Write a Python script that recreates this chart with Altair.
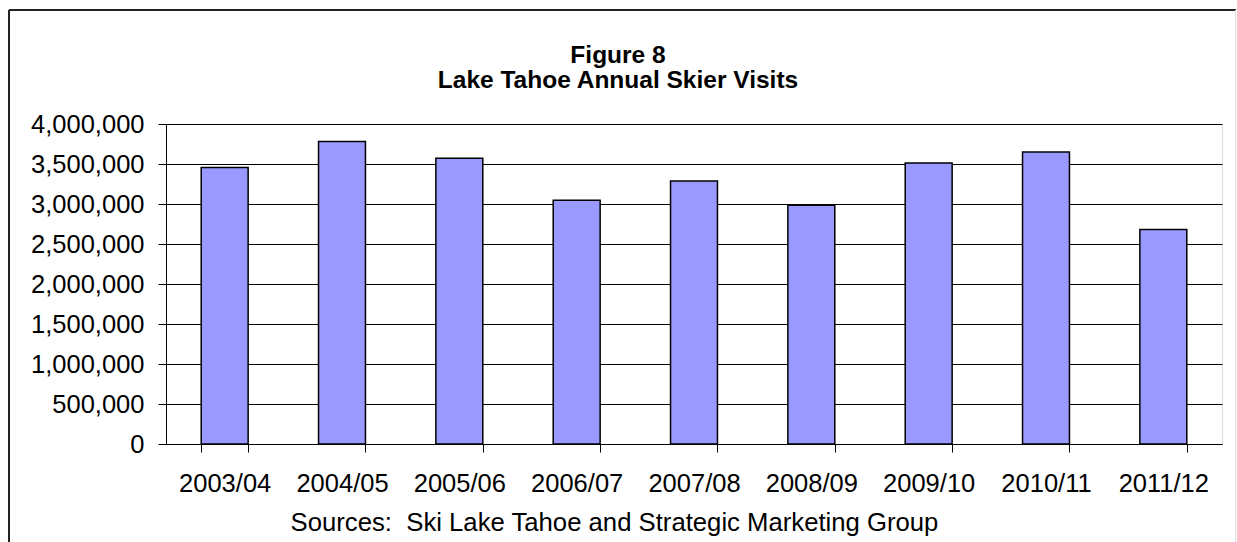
import altair as alt
import pandas as pd

# Ski seasons and annual skier visits
seasons = ["2003/04", "2004/05", "2005/06", "2006/07", "2007/08",
           "2008/09", "2009/10", "2010/11", "2011/12"]
visits = [3455000, 3780000, 3572000, 3047000, 3288000,
          2985000, 3513000, 3650000, 2680000]

y_ticks = [0, 500000, 1000000, 1500000, 2000000, 2500000, 3000000, 3500000, 4000000]

title_lines = ["Figure 8", "Lake Tahoe Annual Skier Visits"]

df = pd.DataFrame({"season": seasons, "visits": visits})
one = pd.DataFrame({"k": [0]})

FONT = "Liberation Sans"

bars = alt.Chart(df).mark_bar(
    color="#9999FF", stroke="#000000", strokeWidth=1.5
).encode(
    x=alt.X(
        "season:N",
        sort=seasons,
        scale=alt.Scale(paddingInner=0.6, paddingOuter=0.3),
        axis=alt.Axis(
            title="Sources:\u00a0 Ski Lake Tahoe and Strategic Marketing Group",
            titleFont=FONT, titleFontSize=25.7, titleFontWeight="normal",
            titleColor="#000000", titleX=448, titleY=86,
            titleBaseline="alphabetic", titleAnchor="start", titleAlign="center",
            labelAngle=0, labelFont=FONT, labelFontSize=25.5, labelColor="#000000",
            labelPadding=19, tickBand="extent", tickSize=8, tickColor="#000000",
            domainColor="#000000", grid=False,
        ),
    ),
    y=alt.Y(
        "visits:Q",
        scale=alt.Scale(domain=[0, 4000000], nice=False),
        axis=alt.Axis(
            title=None, values=y_ticks, format=",d",
            labelFont=FONT, labelFontSize=25.5, labelColor="#000000",
            labelPadding=14, tickSize=8, tickColor="#000000",
            domainColor="#000000", gridColor="#000000", gridWidth=1,
        ),
    ),
)

# Two-line bold heading above the plot
def heading_line(text, y):
    return alt.Chart(one).mark_text(
        text=text, font=FONT, fontSize=24.5, fontWeight="bold", color="#000000",
        align="center", baseline="middle",
    ).encode(x=alt.value(452), y=alt.value(y))

heading1 = heading_line(title_lines[0], -68)
heading2 = heading_line(title_lines[1], -43)

# Outer chart frame
frame_top = alt.Chart(one).mark_rule(color="#222222", strokeWidth=2).encode(
    x=alt.value(-157), x2=alt.value(1070), y=alt.value(-114)
)
frame_left = alt.Chart(one).mark_rule(color="#222222", strokeWidth=2).encode(
    x=alt.value(-157), y=alt.value(-114), y2=alt.value(440)
)
frame_right = alt.Chart(one).mark_rule(color="#dddddd", strokeWidth=1).encode(
    x=alt.value(1069.5), y=alt.value(-114), y2=alt.value(440)
)

chart = alt.layer(bars, heading1, heading2, frame_top, frame_left, frame_right).properties(
    width=1056,
    height=320,
    autosize=alt.AutoSizeParams(type="none"),
    padding={"left": 166, "top": 124, "right": 15, "bottom": 98},
).configure_view(
    stroke="#808080", strokeWidth=1
).configure(background="#ffffff")

chart.save("out.html", embed_options={"renderer": "svg", "actions": False})
